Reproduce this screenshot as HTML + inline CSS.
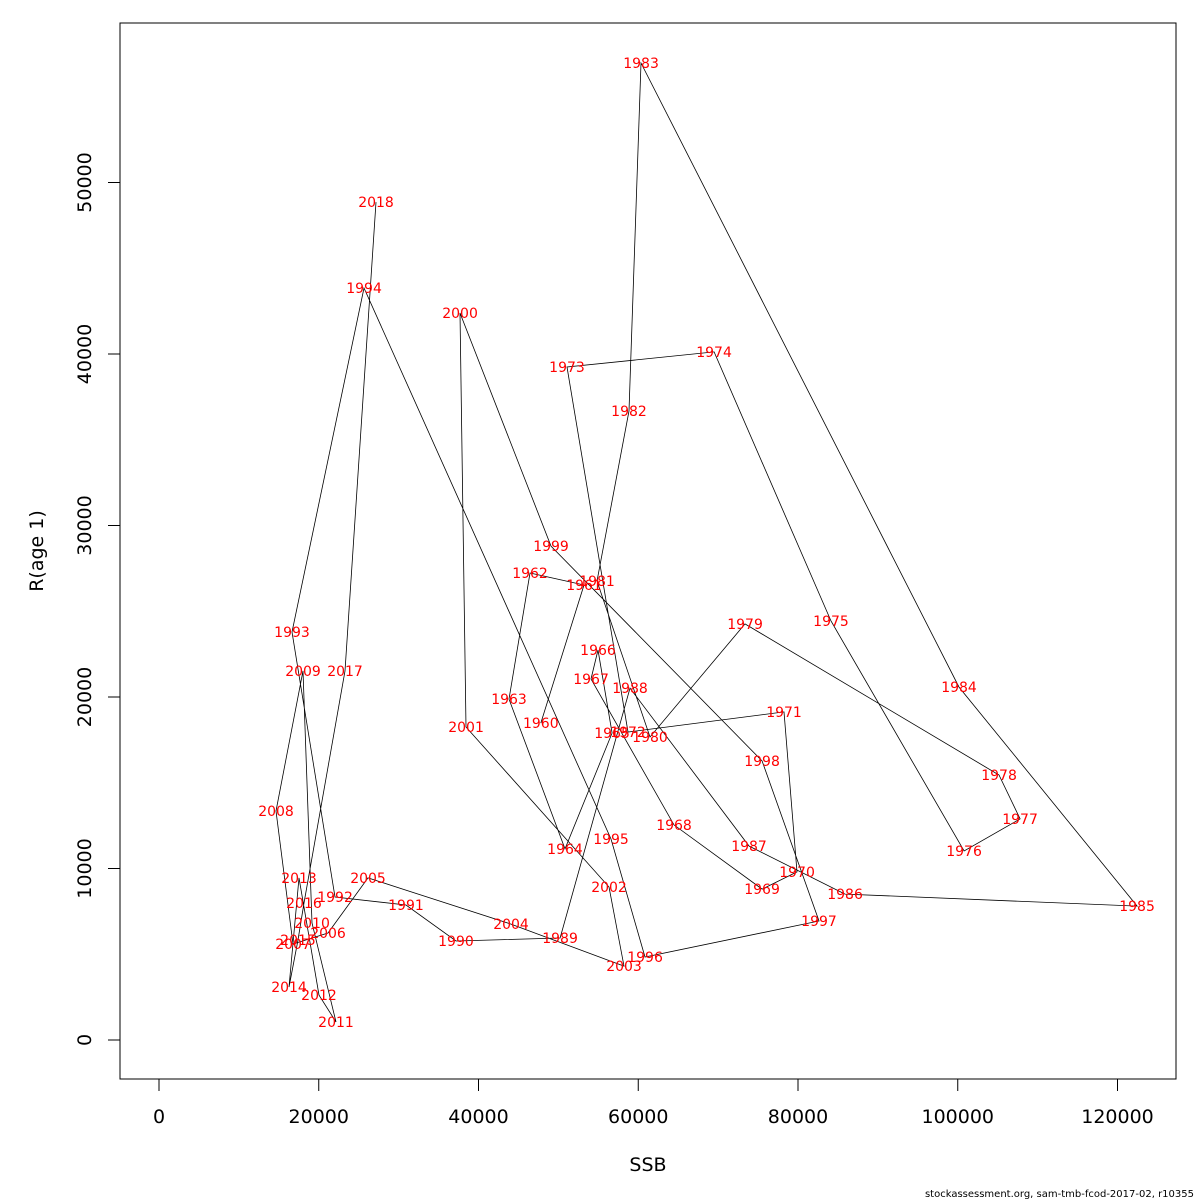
<!DOCTYPE html>
<html><head><meta charset="utf-8"><style>
html,body{margin:0;padding:0;background:#fff;}
svg{display:block;font-family:"DejaVu Sans","Liberation Sans",sans-serif;}
</style></head><body>
<svg id="chart" width="1200" height="1200" viewBox="0 0 1200 1200" xmlns="http://www.w3.org/2000/svg">
<rect x="120" y="23" width="1056" height="1056" fill="none" stroke="#000" stroke-width="1"/>
<g id="axes"></g>
<g id="series"></g>
<g id="labels"></g>
<text x="648" y="1171" font-size="19" text-anchor="middle">SSB</text>
<text transform="translate(43,551) rotate(-90)" font-size="19" text-anchor="middle">R(age 1)</text>
<text x="1194" y="1197" font-size="10" text-anchor="end">stockassessment.org, sam-tmb-fcod-2017-02, r10355</text>
</svg>
<script>
const years = [1960,1961,1962,1963,1964,1965,1966,1967,1968,1969,1970,1971,1972,1973,1974,1975,1976,1977,1978,1979,1980,1981,1982,1983,1984,1985,1986,1987,1988,1989,1990,1991,1992,1993,1994,1995,1996,1997,1998,1999,2000,2001,2002,2003,2004,2005,2006,2007,2008,2009,2010,2011,2012,2013,2014,2015,2016,2017,2018];
const ssb = [47800,53210,46450,43820,50830,56720,54960,54090,64480,75500,79880,78250,58720,51080,69490,84130,100790,107800,105170,73370,61470,54840,58840,60350,100160,122450,85890,73870,58970,50210,37180,30920,22040,16650,25670,56590,60850,82630,75500,49080,37690,38440,56340,58220,44070,26170,21160,16780,14650,18030,19160,22160,20030,17530,16280,17400,18150,23290,27170];
const recruits = [18480,26530,27230,19880,11140,17900,22740,21050,12540,8800,9800,19130,17960,39240,40120,24430,11020,12890,15450,24260,17670,26760,36680,56970,20580,7810,8510,11310,20520,5950,5770,7870,8340,23790,43850,11720,4840,6940,16270,28800,42390,18250,8920,4310,6760,9450,6240,5600,13350,21520,6820,1050,2620,9450,3090,5830,7990,21520,48860];
const xTicks = [0,20000,40000,60000,80000,100000,120000];
const yTicks = [0,10000,20000,30000,40000,50000];

const NS = "http://www.w3.org/2000/svg";
const xs = v => 159 + v * 0.0079875;
const ys = v => 1040 - v * 0.01715;
function mk(tag, attrs, parent){const e=document.createElementNS(NS,tag);for(const k in attrs)e.setAttribute(k,attrs[k]);parent.appendChild(e);return e;}
const axes=document.getElementById('axes');
mk('line',{x1:xs(0),x2:xs(120000),y1:1079,y2:1079,stroke:'#000'},axes);
xTicks.forEach(t=>{
  const l=mk('line',{x1:xs(t),x2:xs(t),y1:1079,y2:1091,stroke:'#000'},axes);
  
  
  const tx=mk('text',{x:xs(t),y:1123,'font-size':19,'text-anchor':'middle'},axes);
  tx.textContent=t;
  
  
});
mk('line',{x1:120,x2:120,y1:ys(0),y2:ys(50000),stroke:'#000'},axes);
yTicks.forEach(t=>{
  const l=mk('line',{x1:108,x2:120,y1:ys(t),y2:ys(t),stroke:'#000'},axes);
  
  
  const tx=mk('text',{transform:`translate(91,${ys(t)}) rotate(-90)`,'font-size':19,'text-anchor':'middle'},axes);
  tx.textContent=t;
  
  
});
const series=document.getElementById('series');
const pts=ssb.map((v,i)=>xs(v).toFixed(1)+','+ys(recruits[i]).toFixed(1)).join(' ');
const pl=mk('polyline',{points:pts,fill:'none',stroke:'#000','stroke-width':0.8},series);


const labels=document.getElementById('labels');
years.forEach((y,i)=>{
  const t=mk('text',{x:xs(ssb[i]),y:ys(recruits[i])+5,'font-size':14,fill:'#ff0000','text-anchor':'middle'},labels);
  t.textContent=y;
  
  
});
</script>
</body></html>
